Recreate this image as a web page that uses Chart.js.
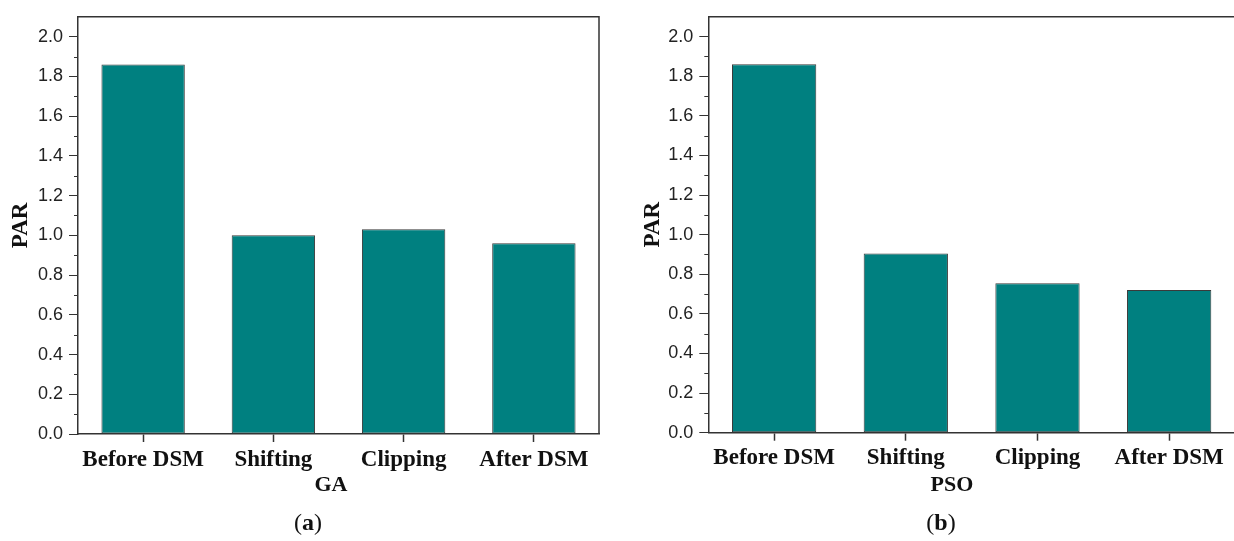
<!DOCTYPE html>
<html>
<head>
<meta charset="utf-8">
<script src="https://cdn.jsdelivr.net/npm/chart.js@4.4.1/dist/chart.umd.min.js"></script>
<style>
    html, body { margin: 0; padding: 0; background: #fff; overflow: hidden; }
    #wrap { position: relative; width: 1234px; height: 541px; overflow: hidden; }
    canvas { position: absolute; top: 0; }
    .axisTitle, .caption { position: absolute; white-space: nowrap; color: #111; }
    .axisTitle { font: bold 22px "Liberation Serif", serif; line-height: 22px; transform: translateX(-50%); }
    .caption { font: 24px "Liberation Serif", serif; line-height: 24px; transform: translateX(-50%); }
</style>
</head>
<body>
<div id="wrap">
    <canvas id="gaChart" width="617" height="541" style="left:0px"></canvas>
    <canvas id="psoChart" width="623" height="541" style="left:617px"></canvas>
    <div class="axisTitle" style="left:331px; top:473px">GA</div>
    <div class="axisTitle" style="left:952px; top:473px">PSO</div>
    <div class="caption" style="left:308px; top:510px">(<b>a</b>)</div>
    <div class="caption" style="left:941px; top:510px">(<b>b</b>)</div>
</div>
<script>
// データ
const categories = ['Before DSM', 'Shifting', 'Clipping', 'After DSM'];
const gaPar = [1.86, 1.00, 1.03, 0.96];
const psoPar = [1.86, 0.905, 0.755, 0.72];
const yTickValues = [0, 0.2, 0.4, 0.6, 0.8, 1.0, 1.2, 1.4, 1.6, 1.8, 2.0];
const yMax = 2.1;

const barColor = '#008080';
const axisColor = '#333333';

// 枠線（上・右）と副目盛り
const framePlugin = {
    id: 'frame',
    afterDraw(chart) {
        const { ctx, chartArea } = chart;
        const y = chart.scales.y;
        ctx.save();
        ctx.strokeStyle = axisColor;
        ctx.lineWidth = 1.5;
        ctx.beginPath();
        ctx.moveTo(chartArea.left, chartArea.top);
        ctx.lineTo(chartArea.right, chartArea.top);
        ctx.lineTo(chartArea.right, chartArea.bottom);
        ctx.stroke();

        // 副目盛り（0.1刻み）
        ctx.lineWidth = 1;
        ctx.beginPath();
        for (let i = 0; i < yTickValues.length - 1; i++) {
            const v = (yTickValues[i] + yTickValues[i + 1]) / 2;
            const py = Math.round(y.getPixelForValue(v)) + 0.5;
            ctx.moveTo(chartArea.left - 4, py);
            ctx.lineTo(chartArea.left, py);
        }
        ctx.stroke();
        ctx.restore();
    }
};

// チャート作成
function makeChart(id, values, geo) {
    const ctx = document.getElementById(id);
    return new Chart(ctx, {
        type: 'bar',
        data: {
            labels: categories,
            datasets: [{
                label: 'PAR',
                data: values,
                backgroundColor: barColor,
                borderColor: '#3a3a3a',
                borderWidth: 1,
                borderSkipped: false,
                barPercentage: 0.64,
                categoryPercentage: 1.0
            }]
        },
        options: {
            responsive: false,
            animation: false,
            layout: {
                padding: { left: geo.padLeft, right: geo.padRight, top: geo.padTop, bottom: 0 }
            },
            plugins: {
                legend: { display: false },
                tooltip: { enabled: false }
            },
            scales: {
                x: {
                    grid: {
                        offset: false,
                        drawOnChartArea: false,
                        drawTicks: true,
                        tickLength: 8,
                        tickColor: axisColor,
                        tickWidth: 1.5
                    },
                    border: { display: true, color: axisColor, width: 1.5 },
                    ticks: {
                        color: '#111',
                        padding: 4,
                        maxRotation: 0,
                        font: { family: 'Liberation Serif', weight: 'bold', size: 23 }
                    },
                    afterFit(scale) { scale.height = geo.xHeight; }
                },
                y: {
                    min: 0,
                    max: yMax,
                    grid: {
                        drawOnChartArea: false,
                        drawTicks: true,
                        tickLength: 9,
                        tickColor: axisColor,
                        tickWidth: 1
                    },
                    border: { display: true, color: axisColor, width: 1.5 },
                    ticks: {
                        color: '#222',
                        padding: 6,
                        font: { family: 'Liberation Sans', size: 18 },
                        callback: (v) => Number(v).toFixed(1)
                    },
                    afterBuildTicks(scale) {
                        scale.ticks = yTickValues.map(v => ({ value: v }));
                    },
                    title: {
                        display: true,
                        text: 'PAR',
                        color: '#111',
                        padding: { top: 5, bottom: 0 },
                        font: { family: 'Liberation Serif', weight: 'bold', size: 23 }
                    },
                    afterFit(scale) { scale.width = geo.yWidth; }
                }
            }
        },
        plugins: [framePlugin]
    });
}

makeChart('gaChart', gaPar, { padLeft: 2, padRight: 18, padTop: 14.5, yWidth: 76, xHeight: 107 });
makeChart('psoChart', psoPar, { padLeft: 17, padRight: 5, padTop: 9, yWidth: 74.3, xHeight: 108.3 });
</script>
</body>
</html>
